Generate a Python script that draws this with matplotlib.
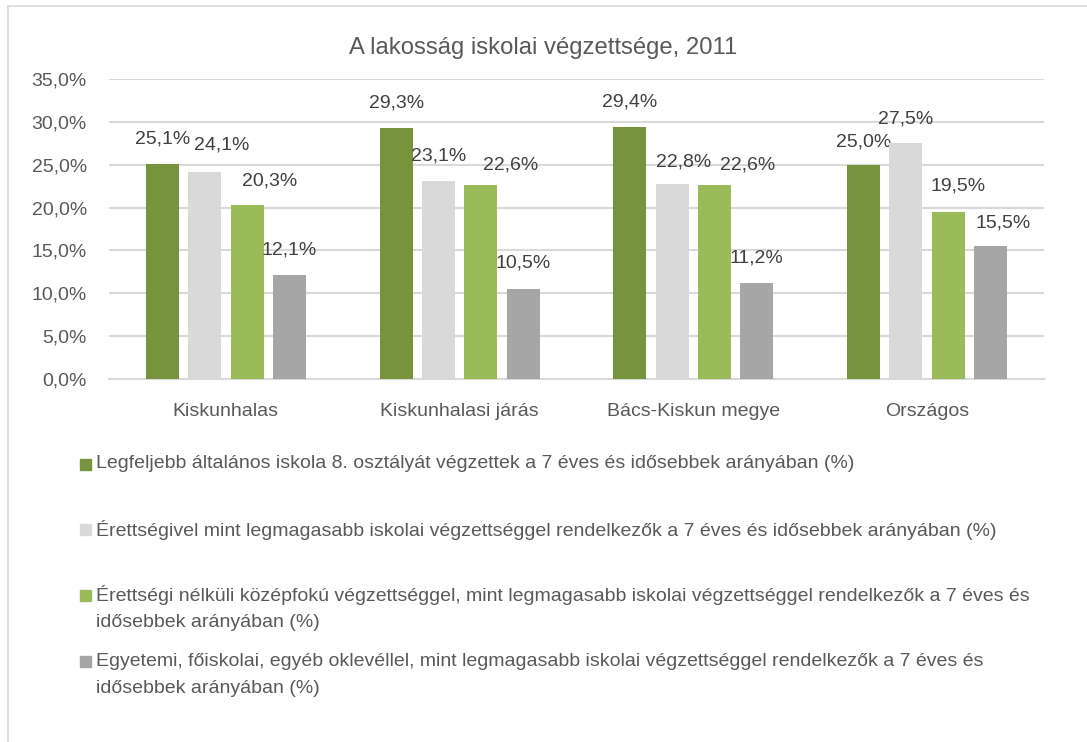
import numpy as np
import matplotlib.pyplot as plt
from matplotlib.patches import Rectangle

plt.rcParams['font.family'] = ['Liberation Sans', 'DejaVu Sans']

# Adatok
categories = ['Kiskunhalas', 'Kiskunhalasi járás', 'Bács-Kiskun megye', 'Országos']
series_labels = [
    'Legfeljebb általános iskola 8. osztályát végzettek a 7 éves és idősebbek arányában (%)',
    'Érettségivel mint legmagasabb iskolai végzettséggel rendelkezők a 7 éves és idősebbek arányában (%)',
    'Érettségi nélküli középfokú végzettséggel, mint legmagasabb iskolai végzettséggel rendelkezők a 7 éves és\nidősebbek arányában (%)',
    'Egyetemi, főiskolai, egyéb oklevéllel, mint legmagasabb iskolai végzettséggel rendelkezők a 7 éves és\nidősebbek arányában (%)',
]
alapfok = [25.1, 29.3, 29.4, 25.0]
erettsegi = [24.1, 23.1, 22.8, 27.5]
szakmunkas = [20.3, 22.6, 22.6, 19.5]
diploma = [12.1, 10.5, 11.2, 15.5]
series = [alapfok, erettsegi, szakmunkas, diploma]

colors = ['#77933c', '#d9d9d9', '#9bbb59', '#a6a6a6']
# címkék eltolása pixelben (dx, dy), kategóriánként - kézzel igazítva
label_nudge = [
    [(0, 25), (17, 27), (23, 24), (0, 25)],
    [(0, 25), (0, 25), (30, 20), (0, 26)],
    [(0, 25), (11, 22), (33, 20), (0, 25)],
    [(0, 23), (0, 24), (10, 26), (13, 23)],
]

W, H = 1087, 742
fig = plt.figure(figsize=(W / 100, H / 100), dpi=100)
ax = fig.add_axes([109 / W, 1 - 379 / H, (1044 - 109) / W, 300 / H])

text_c = '#595959'
fs = 14.0
x = np.arange(len(categories))
bw = 0.141
step = 0.181
for i, (vals, col) in enumerate(zip(series, colors)):
    pos = x + (i - 1.5) * step
    ax.bar(pos, vals, width=bw, color=col, zorder=3)
    for j, v in enumerate(vals):
        dx, dy = label_nudge[j][i]
        ax.annotate('{:.1f}%'.format(v).replace('.', ','), (pos[j], v),
                    xytext=(dx, dy), textcoords='offset pixels',
                    ha='center', va='center', fontsize=fs, color='#404040')

ax.set_xlim(-0.5, len(categories) - 0.5)
ax.set_ylim(0, 35)
ticks = np.arange(0, 35.1, 5)
ax.set_yticks(ticks)
ax.set_yticklabels(['{:.1f}%'.format(t).replace('.', ',') for t in ticks])
ax.set_xticks(x)
ax.set_xticklabels(categories)
ax.tick_params(axis='both', length=0, labelsize=fs, labelcolor=text_c)
ax.tick_params(axis='y', pad=16)
ax.tick_params(axis='x', pad=17)
ax.grid(axis='y', color='#d9d9d9', linewidth=1.5, zorder=0)
for s in ['left', 'right', 'top']:
    ax.spines[s].set_visible(False)
ax.spines['bottom'].set_color('#d9d9d9')
ax.spines['bottom'].set_linewidth(1.5)

fig.text(543 / W, 1 - 48 / H, 'A lakosság iskolai végzettsége, 2011',
         ha='center', va='center', fontsize=17.2, color=text_c)

# Jelmagyarázat kézzel
for i, (lab, col) in enumerate(zip(series_labels, colors)):
    y0 = 464 + i * 65.7
    fig.patches.append(Rectangle((80 / W, 1 - (y0 + 5.5) / H), 11 / W, 11 / H,
                                 transform=fig.transFigure, color=col))
    for k, line in enumerate(lab.split('\n')):
        fig.text(96 / W, 1 - (y0 + k * 27) / H, line, ha='left', va='center',
                 fontsize=fs, color=text_c)

# keret
fig.patches.append(Rectangle((8 / W, -0.1), 1.2, 1 - 6 / H + 0.1,
                             transform=fig.transFigure, fill=False,
                             edgecolor='#d9d9d9', linewidth=1.2))

fig.savefig('out.png', dpi=100)
